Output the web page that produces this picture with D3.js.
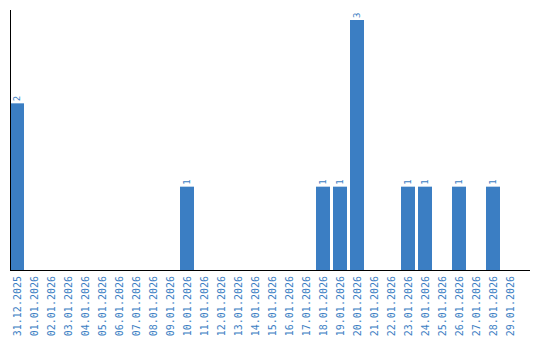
<!DOCTYPE html>
<html>
<head>
<meta charset="utf-8">
<script src="https://cdn.jsdelivr.net/npm/d3@7"></script>
<style>
  body { margin: 0; background: #fff; }
</style>
</head>
<body>
<svg id="chart"></svg>
<script>
// dates on the x axis
const dates = [
    "31.12.2025", "01.01.2026", "02.01.2026", "03.01.2026", "04.01.2026",
    "05.01.2026", "06.01.2026", "07.01.2026", "08.01.2026", "09.01.2026",
    "10.01.2026", "11.01.2026", "12.01.2026", "13.01.2026", "14.01.2026",
    "15.01.2026", "16.01.2026", "17.01.2026", "18.01.2026", "19.01.2026",
    "20.01.2026", "21.01.2026", "22.01.2026", "23.01.2026", "24.01.2026",
    "25.01.2026", "26.01.2026", "27.01.2026", "28.01.2026", "29.01.2026"
];
// count per day
const counts = [
    2, 0, 0, 0, 0, 0, 0, 0, 0, 0,
    1, 0, 0, 0, 0, 0, 0, 0, 1, 1,
    3, 0, 0, 1, 1, 0, 1, 0, 1, 0
];

const width = 540;
const height = 340;
const padLeft = 10;
const padTop = 20;
const baseY = 270;
const blue = "#3b7ec3";

const data = dates.map((d, i) => ({ date: d, value: counts[i] }));

// 17px per day, 14px bars
const xScale = d3.scaleBand()
    .domain(dates)
    .range([padLeft, padLeft + 17 * dates.length])
    .paddingInner(3 / 17)
    .paddingOuter(3 / 34)
    .align(0);

const yScale = d3.scaleLinear()
    .domain([0, d3.max(counts)])
    .range([baseY, padTop]);

const svg = d3.select("#chart")
    .attr("width", width)
    .attr("height", height);

// bars
svg.selectAll("rect")
    .data(data.filter(d => d.value > 0))
    .enter()
    .append("rect")
        .attr("x", d => xScale(d.date))
        .attr("y", d => yScale(d.value))
        .attr("width", xScale.bandwidth())
        .attr("height", d => baseY - yScale(d.value))
        .attr("fill", blue);

// value labels above bars
svg.selectAll(".val")
    .data(data.filter(d => d.value > 0))
    .enter()
    .append("text")
        .attr("class", "val")
        .attr("transform", d => `translate(${xScale(d.date) + xScale.bandwidth() / 2 + 3}, ${yScale(d.value) - 2}) rotate(-90)`)
        .style("font-family", "DejaVu Sans Mono, monospace")
        .style("font-size", "9px")
        .attr("fill", blue)
        .text(d => d.value);

// y axis line
svg.append("line")
    .attr("x1", padLeft + 0.5).attr("x2", padLeft + 0.5)
    .attr("y1", 10).attr("y2", baseY)
    .attr("stroke", "#000");

// x axis line
svg.append("line")
    .attr("x1", padLeft).attr("x2", 530)
    .attr("y1", baseY + 0.5).attr("y2", baseY + 0.5)
    .attr("stroke", "#000");

// date labels
svg.selectAll(".lbl")
    .data(dates)
    .enter()
    .append("text")
        .attr("class", "lbl")
        .attr("transform", d => `translate(${xScale(d) + xScale.bandwidth() / 2 + 3.5}, 276) rotate(-90)`)
        .style("text-anchor", "end")
        .style("font-family", "DejaVu Sans Mono, monospace")
        .style("font-size", "10px")
        .attr("fill", blue)
        .text(d => d);
</script>
</body>
</html>
